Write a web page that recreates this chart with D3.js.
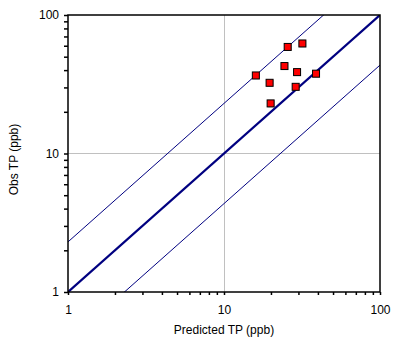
<!DOCTYPE html>
<html><head><meta charset="utf-8">
<script src="https://cdn.jsdelivr.net/npm/d3@7"></script>
<style>body{margin:0;background:#fff}svg{display:block}text{font-family:"Liberation Sans",Arial,sans-serif;}</style>
</head><body>
<svg id="c" width="394" height="345"></svg>
<script>
const predicted = [25.6, 31.8, 24.4, 29.4, 16.0, 38.9, 19.6, 28.8, 19.9];
const observed  = [58.8, 62.3, 42.8, 38.7, 36.6, 37.7, 32.4, 30.3, 23.0];
const tickValues = [1, 10, 100];
const bandFactor = 2.3;
const xTitle = "Predicted TP (ppb)";
const yTitle = "Obs TP (ppb)";

const svg = d3.select("#c");
const L = 68, R = 380, T = 15, B = 292;
const x = d3.scaleLog().domain([1, 100]).range([L, R]);
const y = d3.scaleLog().domain([1, 100]).range([B, T]);

const minor = [];
for (let d = 1; d < 100; d *= 10) for (let k = 2; k <= 9; k++) minor.push(d * k);

// grid
const g = svg.append("g");
g.selectAll(".gx").data([10]).enter().append("line")
  .attr("x1", d => x(d)).attr("x2", d => x(d)).attr("y1", T).attr("y2", B)
  .attr("stroke", "#c0c0c0").attr("stroke-width", 1).attr("shape-rendering", "crispEdges");
g.selectAll(".gy").data([10]).enter().append("line")
  .attr("y1", d => y(d)).attr("y2", d => y(d)).attr("x1", L).attr("x2", R)
  .attr("stroke", "#c0c0c0").attr("stroke-width", 1).attr("shape-rendering", "crispEdges");

// clip
svg.append("clipPath").attr("id", "clip").append("rect")
  .attr("x", L).attr("y", T).attr("width", R - L).attr("height", B - T);

const lines = svg.append("g").attr("clip-path", "url(#clip)");
const lineDefs = [
  {f: 1, w: 2.2},
  {f: bandFactor, w: 1},
  {f: 1 / bandFactor, w: 1}
];
lines.selectAll("line").data(lineDefs).enter().append("line")
  .attr("x1", x(0.3)).attr("y1", d => y(0.3 * d.f))
  .attr("x2", x(300)).attr("y2", d => y(300 * d.f))
  .attr("stroke", "#000080").attr("stroke-width", d => d.w);

// frame
svg.append("rect").attr("x", L).attr("y", T).attr("width", R - L).attr("height", B - T)
  .attr("fill", "none").attr("stroke", "#000").attr("stroke-width", 1.5);

// axes
const xAxis = d3.axisBottom(x).tickValues(tickValues.concat(minor)).tickSize(3)
  .tickFormat(d => tickValues.includes(d) ? d : "");
const xg = svg.append("g").attr("transform", `translate(0,${B})`).call(xAxis);
const yAxis = d3.axisLeft(y).tickValues(tickValues.concat(minor)).tickSize(4)
  .tickFormat(d => tickValues.includes(d) ? d : "");
const yg = svg.append("g").attr("transform", `translate(${L},0)`).call(yAxis);
[xg, yg].forEach(a => {
  a.select(".domain").remove();
  a.selectAll(".tick line").attr("stroke", "#000").attr("stroke-width", 1.5);
  a.selectAll("text").attr("font-size", 12).attr("fill", "#000")
    .attr("font-family", '"Liberation Sans",Arial,sans-serif');
});
xg.selectAll("text").attr("dy", "1.2em").attr("y", 8);
yg.selectAll("text").attr("x", -9);

// points
const pts = svg.append("g");
const data = predicted.map((p, i) => ({p, o: observed[i]}));
pts.selectAll(".sh").data(data).enter().append("rect")
  .attr("x", d => x(d.p) - 3).attr("y", d => y(d.o) - 3).attr("width", 7).attr("height", 7)
  .attr("fill", "#888").attr("opacity", 0.5);
pts.selectAll(".pt").data(data).enter().append("rect")
  .attr("x", d => x(d.p) - 3.5).attr("y", d => y(d.o) - 3.5).attr("width", 7).attr("height", 7)
  .attr("fill", "#ff0000").attr("stroke", "#000").attr("stroke-width", 1);

// titles
svg.append("text").attr("x", (L + R) / 2).attr("y", 334).attr("text-anchor", "middle")
  .attr("font-size", 12).text(xTitle);
svg.append("text").attr("transform", `translate(18,${(T + B) / 2 + 6}) rotate(-90)`)
  .attr("text-anchor", "middle").attr("font-size", 12).text(yTitle);
</script>
</body></html>
